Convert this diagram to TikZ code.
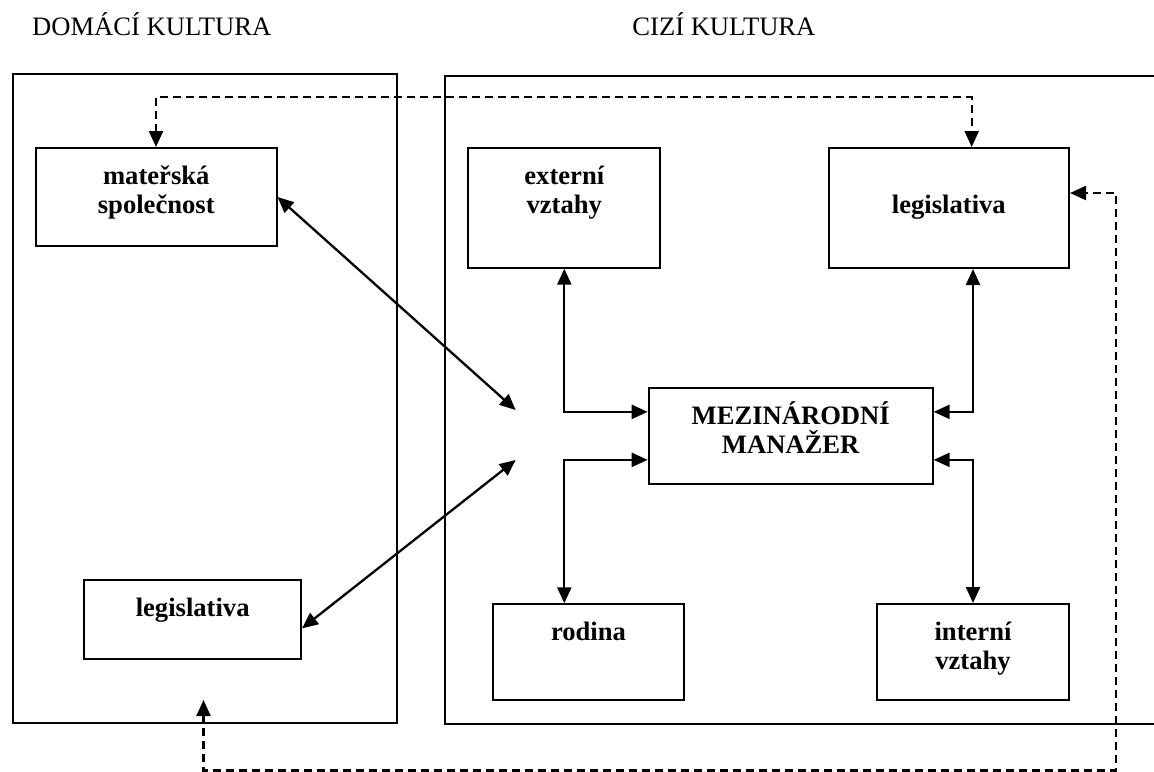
\documentclass[tikz,border=0pt]{standalone}
\usepackage{fontspec}
\setmainfont{Liberation Serif}
\usetikzlibrary{arrows.meta,calc}

% box text: fixed-size parbox, first baseline a fixed distance below the top
\newcommand{\boxtxt}[3]{\parbox[t][#2][t]{#1}{\centering\bfseries\rule{0pt}{18.3pt}#3}}

\begin{document}
\begin{tikzpicture}[x=0.5pt,y=-0.5pt,
  font=\fontsize{13.3}{14.5}\selectfont,
  frame/.style={draw,line width=1pt,inner sep=0pt,anchor=north west},
  heading/.style={anchor=base west,inner sep=0pt},
  link/.style={line width=1.15pt,{Triangle[length=8pt,width=7pt]}-{Triangle[length=8pt,width=7pt]}},
  dlink/.style={link,dash pattern=on 4pt off 2.5pt}]
\useasboundingbox (0,0) rectangle (1154,771);

% headings
\node[heading] (hdom) at (31.7,35) {DOMÁCÍ KULTURA};
\node[heading] (hciz) at (632,35) {CIZÍ KULTURA};

% the two culture frames
\node[frame,minimum width=192.1pt,minimum height=324.2pt] (dom) at (11.5,73.3) {};
\node[frame,minimum width=365pt,minimum height=324pt] (ciz) at (443.5,75) {};

% boxes
\node[frame] (mat) at (35,147) {\boxtxt{120.25pt}{49pt}{mateřská\\společnost}};
\node[frame] (legL) at (83.3,579) {\boxtxt{108.35pt}{39.35pt}{legislativa}};
\node[frame] (ext) at (467.3,146.7) {\boxtxt{96pt}{60pt}{externí\\vztahy}};
\node[frame] (legR) at (827.7,147) {\boxtxt{120.15pt}{60pt}{\\legislativa}};
\node[frame] (mm) at (647.7,386.7) {\boxtxt{142pt}{48.15pt}{MEZINÁRODNÍ\\MANAŽER}};
\node[frame] (rod) at (491.7,603.3) {\boxtxt{95.8pt}{47.85pt}{rodina}};
\node[frame] (int) at (876,603) {\boxtxt{96pt}{48pt}{interní\\vztahy}};

% free ends of the connectors
\coordinate (hubU) at (515.7,410);
\coordinate (hubD) at (515.7,460);
\coordinate (topL) at (156,97);
\coordinate (topR) at (971.7,97);
\coordinate (sideR) at (1116,193);
\coordinate (botR) at (1116,770.5);
\coordinate (botL) at (203.5,770.5);
\coordinate (domIn) at (203.5,700);

% solid connectors
\draw[link] (mat.east) -- (hubU);
\draw[link] ([yshift=-4.5pt]legL.east) -- (hubD);
\draw[link] (ext.south) |- ([yshift=12pt]mm.west);
\draw[link] ([yshift=-12pt]mm.west) -| (rod.north -| ext.south);
\draw[link] (legR.south -| int.north) |- ([yshift=12pt]mm.east);
\draw[link] ([yshift=-12pt]mm.east) -| (int.north);

% dashed connectors
\draw[dlink] (mat.north -| topL) -- (topL) -- (topR) -- (legR.north -| topR);
\draw[dlink] (domIn) -- (botL) -- (botR) -- (sideR) -- (sideR -| legR.east);
\end{tikzpicture}
\end{document}
